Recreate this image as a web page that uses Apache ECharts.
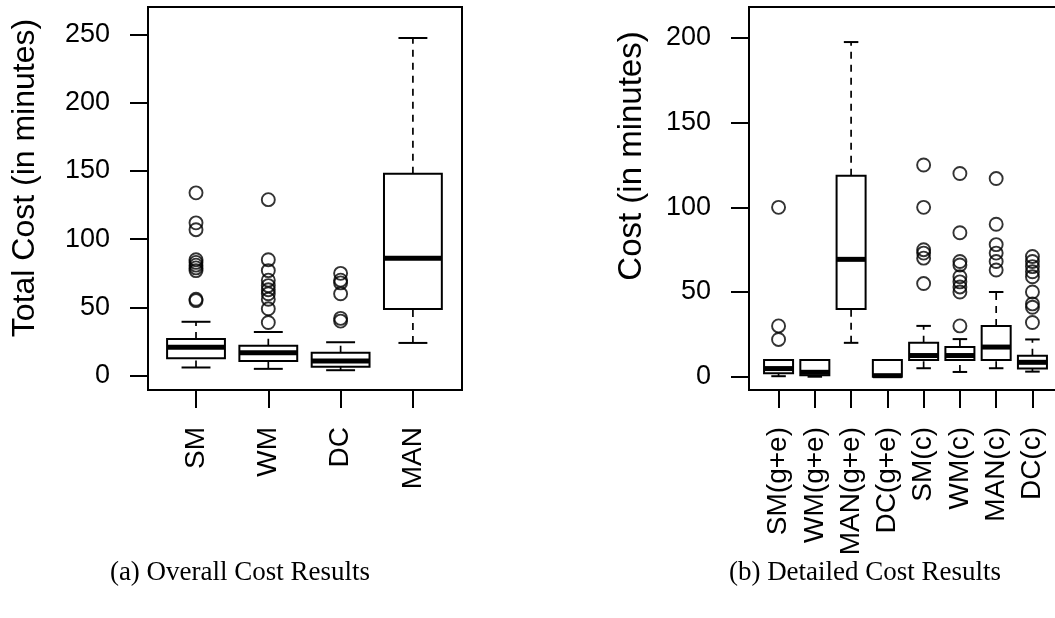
<!DOCTYPE html>
<html>
<head>
<meta charset="utf-8">
<script src="https://cdn.jsdelivr.net/npm/echarts@6/dist/echarts.min.js"></script>
<style>
  html, body { margin: 0; padding: 0; background: #fff; }
  #main { width: 1055px; height: 618px; }
</style>
</head>
<body>
<div id="main"></div>
<script>
// ---------- Panel (a): Overall Cost Results ----------
const categoriesA = ['SM', 'WM', 'DC', 'MAN'];
const lowA  = [6, 5, 4, 24];
const q1A   = [12.7, 10.8, 6.6, 48.8];
const medA  = [20.8, 16.8, 10.8, 86];
const q3A   = [26.9, 22, 16.8, 148];
const highA = [39.5, 32, 24.5, 247.5];
const outliersA = [
  [134, 112, 107, 85, 83, 81, 79, 77, 56, 55],
  [129, 85, 77, 70, 66, 63, 60, 56, 49, 39],
  [75, 70, 68, 60, 42, 40],
  []
];
const yTicksA = [0, 50, 100, 150, 200, 250];

// ---------- Panel (b): Detailed Cost Results ----------
const categoriesB = ['SM(g+e)', 'WM(g+e)', 'MAN(g+e)', 'DC(g+e)', 'SM(c)', 'WM(c)', 'MAN(c)', 'DC(c)'];
const lowB  = [0.3, 0, 20, 0, 5, 2.8, 5, 3];
const q1B   = [2, 0.8, 40, 0, 9.8, 9.8, 9.8, 4.9];
const medB  = [4.8, 2.6, 69.3, 0.6, 12.5, 12.5, 17.5, 8.5];
const q3B   = [9.8, 9.8, 118.6, 9.8, 20.1, 17.5, 30, 12.4];
const highB = [9.8, 9.8, 197.6, 9.8, 30, 22.2, 50, 22];
const outliersB = [
  [100, 30, 22],
  [],
  [],
  [],
  [125, 100, 75, 73, 70, 55],
  [120, 85, 68, 66, 59, 56, 53, 50, 30],
  [117, 90, 78, 73, 68, 63],
  [71, 68, 65, 62, 59, 50, 43, 41, 32]
];
const yTicksB = [0, 50, 100, 150, 200];

// ---------- helpers ----------
function boxData(low, q1, med, q3, high) {
  return low.map((v, i) => [i + 1, v, q1[i], med[i], q3[i], high[i]]);
}
function outlierData(outs) {
  const r = [];
  outs.forEach((arr, i) => arr.forEach(v => r.push([i + 1, v])));
  return r;
}
function positions(cats) { return cats.map((c, i) => i + 1); }

function renderBox(params, api) {
  const x = api.value(0);
  const low = api.value(1), q1 = api.value(2), med = api.value(3), q3 = api.value(4), high = api.value(5);
  const boxHalf = 0.4, capHalf = 0.2;
  const pTL = api.coord([x - boxHalf, q3]);
  const pBR = api.coord([x + boxHalf, q1]);
  const cHigh = api.coord([x, high]), cQ3 = api.coord([x, q3]);
  const cQ1 = api.coord([x, q1]), cLow = api.coord([x, low]);
  const capL = api.coord([x - capHalf, 0])[0], capR = api.coord([x + capHalf, 0])[0];
  const medY = api.coord([x, med])[1];
  const dash = { stroke: '#000', lineWidth: 1.7, lineDash: [7, 6], fill: null };
  const solid = { stroke: '#000', lineWidth: 2, fill: null };
  return {
    type: 'group',
    children: [
      { type: 'line', shape: { x1: cQ3[0], y1: cQ3[1], x2: cHigh[0], y2: cHigh[1] }, style: dash },
      { type: 'line', shape: { x1: cLow[0], y1: cLow[1], x2: cQ1[0], y2: cQ1[1] }, style: dash },
      { type: 'line', shape: { x1: capL, y1: cHigh[1], x2: capR, y2: cHigh[1] }, style: solid },
      { type: 'line', shape: { x1: capL, y1: cLow[1], x2: capR, y2: cLow[1] }, style: solid },
      { type: 'rect', shape: { x: pTL[0], y: pTL[1], width: pBR[0] - pTL[0], height: pBR[1] - pTL[1] },
        style: { fill: '#fff', stroke: '#000', lineWidth: 2 } },
      { type: 'line', shape: { x1: pTL[0], y1: medY, x2: pBR[0], y2: medY },
        style: { stroke: '#000', lineWidth: 5, fill: null } }
    ]
  };
}

const SANS = "'Liberation Sans', Arial, Helvetica, sans-serif";
const SERIF = "'Liberation Serif', 'Times New Roman', serif";

function yAxisCfg(gridIndex, min, max, ticks) {
  return {
    type: 'value', gridIndex, min, max,
    axisLine: { show: false, onZero: false },
    splitLine: { show: false },
    axisTick: { show: true, length: 18, customValues: ticks, lineStyle: { color: '#000', width: 2 } },
    axisLabel: { customValues: ticks, color: '#000', fontSize: 27, fontFamily: SANS, margin: 38 }
  };
}
function xAxisCfg(gridIndex, min, max, cats) {
  const pos = positions(cats);
  return {
    type: 'value', gridIndex, min, max, position: 'bottom',
    axisLine: { show: false, onZero: false },
    splitLine: { show: false },
    axisTick: { show: true, length: 18, customValues: pos, lineStyle: { color: '#000', width: 2 } },
    axisLabel: {
      customValues: pos, rotate: 90, color: '#000', fontSize: 28, fontFamily: SANS, margin: 37,
      formatter: v => cats[Math.round(v) - 1] || ''
    }
  };
}

const outlierStyle = { color: 'rgba(0,0,0,0)', borderColor: '#000', borderWidth: 1.9 };

const option = {
  animation: false,
  backgroundColor: '#fff',
  grid: [
    { left: 148, top: 7, width: 314, height: 383, show: true, borderColor: '#000', borderWidth: 2,
      backgroundColor: 'transparent', outerBoundsMode: 'none', containLabel: false },
    { left: 749, top: 7, width: 313, height: 383, show: true, borderColor: '#000', borderWidth: 2,
      backgroundColor: 'transparent', outerBoundsMode: 'none', containLabel: false }
  ],
  xAxis: [
    xAxisCfg(0, 0.336, 4.679, categoriesA),
    xAxisCfg(1, 0.185, 8.815, categoriesB)
  ],
  yAxis: [
    yAxisCfg(0, -10.5, 270.2, yTicksA),
    yAxisCfg(1, -7.85, 218.3, yTicksB)
  ],
  series: [
    { type: 'custom', xAxisIndex: 0, yAxisIndex: 0, renderItem: renderBox,
      encode: { x: 0, y: [1, 2, 3, 4, 5] }, data: boxData(lowA, q1A, medA, q3A, highA) },
    { type: 'scatter', xAxisIndex: 0, yAxisIndex: 0, symbol: 'circle', symbolSize: 13,
      itemStyle: outlierStyle, emphasis: { disabled: true }, data: outlierData(outliersA), z: 5 },
    { type: 'custom', xAxisIndex: 1, yAxisIndex: 1, renderItem: renderBox,
      encode: { x: 0, y: [1, 2, 3, 4, 5] }, data: boxData(lowB, q1B, medB, q3B, highB) },
    { type: 'scatter', xAxisIndex: 1, yAxisIndex: 1, symbol: 'circle', symbolSize: 13,
      itemStyle: outlierStyle, emphasis: { disabled: true }, data: outlierData(outliersB), z: 5 }
  ],
  graphic: [
    { type: 'text', x: 25, y: 178, rotation: Math.PI / 2,
      style: { text: 'Total Cost (in minutes)', font: "32px " + SANS, fill: '#000', align: 'center', verticalAlign: 'middle' } },
    { type: 'text', x: 632, y: 156, rotation: Math.PI / 2,
      style: { text: 'Cost (in minutes)', font: "33px " + SANS, fill: '#000', align: 'center', verticalAlign: 'middle' } },
    { type: 'text', x: 240, y: 573,
      style: { text: '(a) Overall Cost Results', font: "27px " + SERIF, fill: '#000', align: 'center', verticalAlign: 'middle' } },
    { type: 'text', x: 865, y: 573,
      style: { text: '(b) Detailed Cost Results', font: "27px " + SERIF, fill: '#000', align: 'center', verticalAlign: 'middle' } }
  ]
};

const chart = echarts.init(document.getElementById('main'), null, { renderer: 'canvas' });
chart.setOption(option);
</script>
</body>
</html>
